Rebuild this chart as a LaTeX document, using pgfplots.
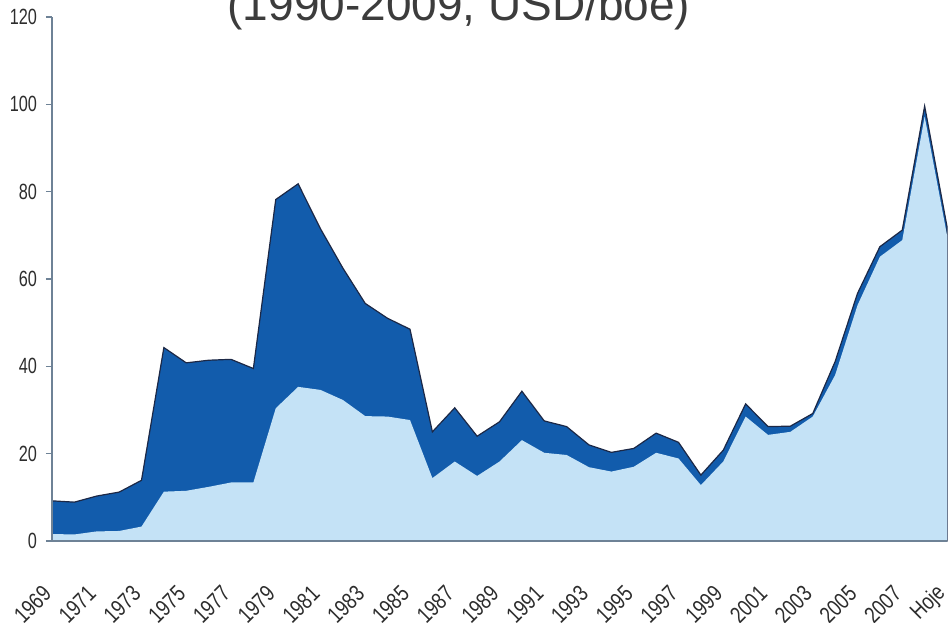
\documentclass[border=0pt]{standalone}
\usepackage{fontspec}
\setmainfont{Liberation Sans}
\newfontfamily\narrowfont[FakeStretch=0.74]{Liberation Sans}
\newfontfamily\xnarrowfont[FakeStretch=0.8]{Liberation Sans}
\usepackage{pgfplots}
\pgfplotsset{compat=1.18}
\usetikzlibrary{calc}
\definecolor{darkfill}{RGB}{18,92,172}
\definecolor{lightfill}{RGB}{196,226,246}
\definecolor{outline}{RGB}{28,40,70}
\definecolor{axisgray}{RGB}{110,130,150}
\definecolor{textgray}{RGB}{45,45,45}
\definecolor{titlegray}{RGB}{60,60,60}
\begin{document}
\begin{tikzpicture}
\begin{axis}[
  scale only axis, width=447.5pt, height=262pt,
  xmin=0, xmax=40, ymin=0, ymax=120,
  axis x line*=bottom, axis y line*=left,
  axis on top,
  x axis line style={draw=axisgray, line width=1pt},
  y axis line style={draw=axisgray, line width=0.6pt},
  ytick={0,20,...,120},
  xtick={0,2,...,40},
  xticklabels={1969,1971,1973,1975,1977,1979,1981,1983,1985,1987,1989,1991,1993,1995,1997,1999,2001,2003,2005,2007,Hoje},
  xtick pos=lower, ytick pos=left,
  tick align=outside,
  major x tick style={draw=none},
  major y tick style={draw=axisgray, line width=0.6pt},
  major tick length=3pt,
  /pgf/number format/assume math mode=true,
  yticklabel style={font=\narrowfont\fontsize{11}{11}\selectfont, text=textgray, xshift=-1pt},
  xticklabel style={font=\xnarrowfont\fontsize{11.5}{11.5}\selectfont, text=textgray, xshift=0pt, yshift=-19pt, rotate=45, anchor=east},
  clip=false,
]
\addplot[fill=darkfill, draw=outline, line width=0.6pt] coordinates {
(0,9.2) (1,8.9) (2,10.3) (3,11.2) (4,13.9) (5,44.3) (6,40.8) (7,41.4) (8,41.6) (9,39.5)
(10,78.2) (11,81.8) (12,71.5) (13,62.5) (14,54.4) (15,51.0) (16,48.5) (17,25.0) (18,30.5) (19,24.0)
(20,27.3) (21,34.3) (22,27.5) (23,26.2) (24,22.0) (25,20.3) (26,21.2) (27,24.7) (28,22.6) (29,15.1)
(30,20.8) (31,31.4) (32,26.2) (33,26.3) (34,29.2) (35,41.1) (36,56.7) (37,67.4) (38,71.2) (39,99.6) (40,72.0)
} \closedcycle;
\addplot[fill=lightfill, draw=none] coordinates {
(0,1.6) (1,1.5) (2,2.2) (3,2.3) (4,3.3) (5,11.3) (6,11.5) (7,12.4) (8,13.4) (9,13.4)
(10,30.4) (11,35.3) (12,34.6) (13,32.3) (14,28.6) (15,28.5) (16,27.7) (17,14.4) (18,18.2) (19,14.9)
(20,18.2) (21,23.1) (22,20.2) (23,19.7) (24,16.9) (25,15.9) (26,17.0) (27,20.2) (28,18.9) (29,12.8)
(30,18.2) (31,28.5) (32,24.3) (33,25.0) (34,28.5) (35,38.0) (36,54.0) (37,65.1) (38,68.9) (39,97.2) (40,70.0)
} \closedcycle;
\coordinate (bl) at (rel axis cs:0,0);
\coordinate (tr) at (rel axis cs:1,1);
\coordinate (tl) at (rel axis cs:0,1);
\end{axis}
\node[anchor=base, font=\fontsize{23}{23}\selectfont, text=titlegray] at ($(tl)+(203.5pt,-1.5pt)$) {(1990-2009, USD/boe)};
\pgfresetboundingbox
\path[use as bounding box] ($(bl)+(-26pt,-40.5pt)$) rectangle ($(tr)+(1pt,8.5pt)$);
\end{tikzpicture}
\end{document}
